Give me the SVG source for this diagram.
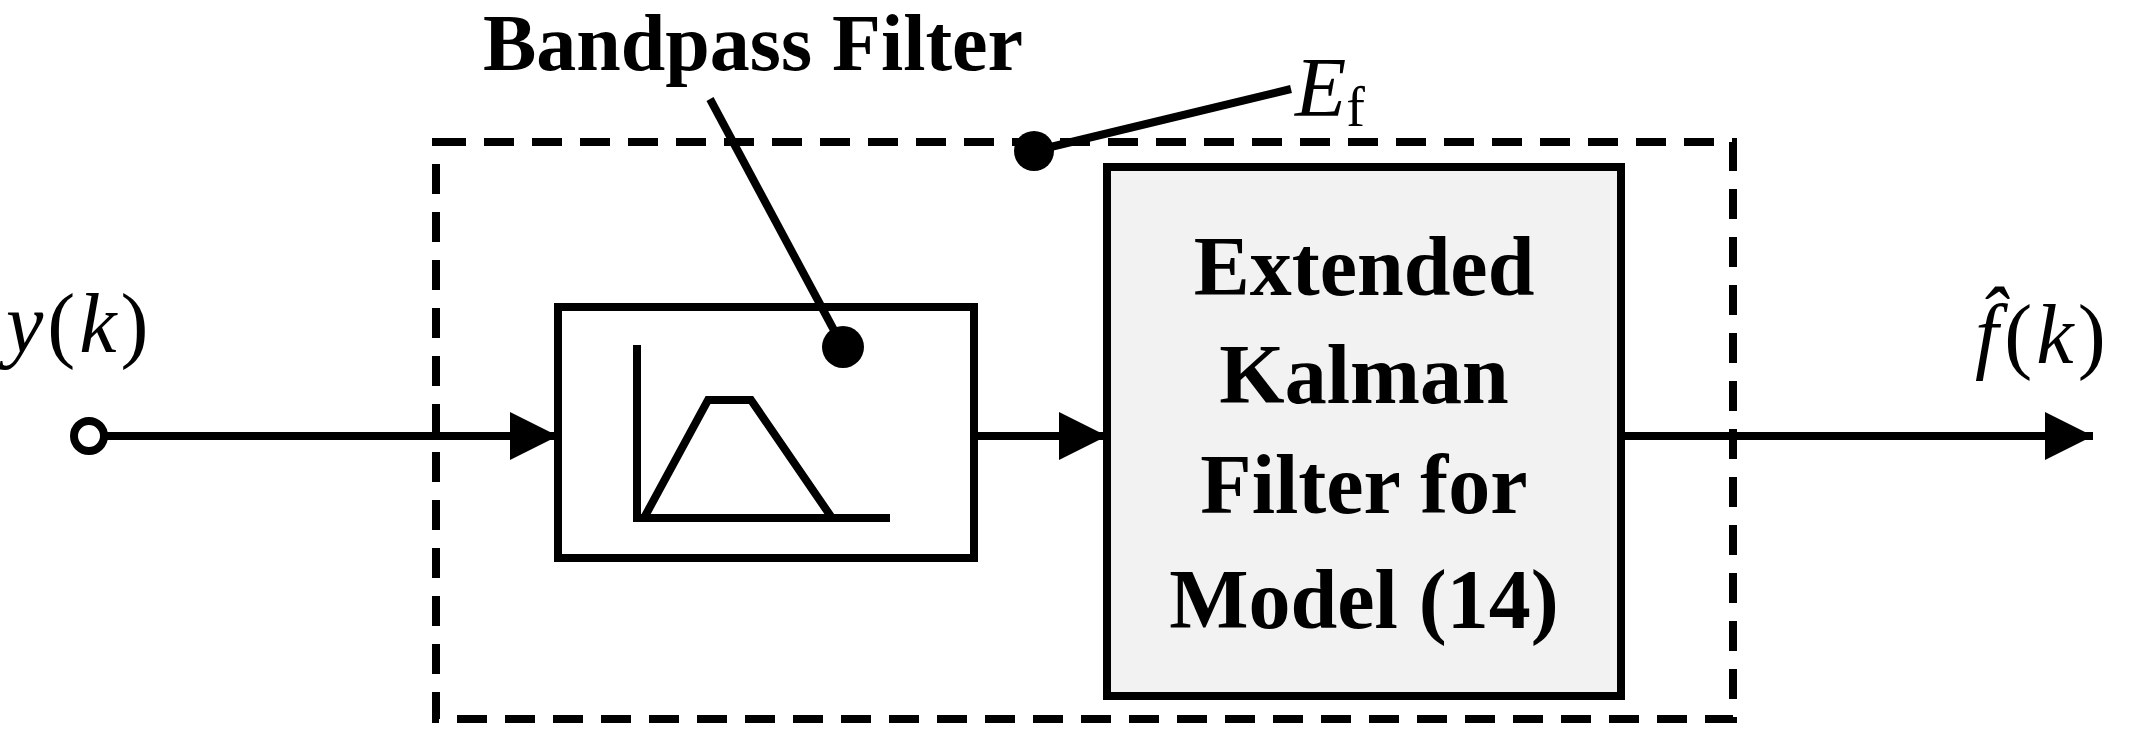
<svg xmlns="http://www.w3.org/2000/svg" width="2148" height="739" viewBox="0 0 2148 739">
<defs>
<style>
.s{stroke:#000;stroke-width:8;fill:none}
.b{font-family:"Liberation Serif",serif;font-weight:bold;fill:#000}
.m{font-family:"Liberation Serif",serif;font-style:italic;fill:#000;font-size:84px}
</style>
<marker id="ar" viewBox="0 0 10 10" refX="10" refY="5" markerWidth="6" markerHeight="6" markerUnits="strokeWidth" orient="auto"><path d="M0,0L10,5L0,10z" fill="#000"/></marker>
</defs>
<rect width="2148" height="739" fill="#fff"/>
<g id="enclosure"><rect x="436" y="142" width="1297" height="577" class="s" stroke-dasharray="30,18"/></g>
<g id="bandpass">
<rect x="558" y="307" width="416" height="251" class="s"/>
<path d="M637,345V518H890M644,518L708,400H751L832,518" class="s"/>
</g>
<g id="ekf">
<rect x="1107" y="167" width="514" height="529" fill="#f2f2f2" stroke="#000" stroke-width="8"/>
<g class="b" font-size="84" text-anchor="middle">
<text x="1364" y="295">Extended</text>
<text x="1364" y="403">Kalman</text>
<text x="1364" y="513">Filter for</text>
<text x="1364" y="628">Model (14)</text>
</g>
</g>
<g id="labels">
<text x="753" y="70" class="b" font-size="80" text-anchor="middle">Bandpass Filter</text>
<text x="1295" y="116" class="m">E<tspan font-style="normal" font-size="56" dy="10">f</tspan></text>
<text x="6" y="352" class="m">y<tspan font-style="normal" dx="4">(</tspan><tspan dx="4">k</tspan><tspan font-style="normal" dx="4">)</tspan></text>
<text x="1975" y="363" class="m">f̂<tspan font-style="normal" dx="6">(</tspan><tspan dx="4">k</tspan><tspan font-style="normal" dx="4">)</tspan></text>
</g>
<g id="connectors">
<line x1="105" y1="436" x2="558" y2="436" class="s" marker-end="url(#ar)"/>
<line x1="974" y1="436" x2="1107" y2="436" class="s" marker-end="url(#ar)"/>
<line x1="1621" y1="436" x2="2093" y2="436" class="s" marker-end="url(#ar)"/>
<circle cx="89" cy="436" r="15" fill="#fff" stroke="#000" stroke-width="8"/>
<line x1="710" y1="99" x2="843" y2="347" class="s"/>
<circle cx="843" cy="347" r="21" fill="#000"/>
<line x1="1034" y1="151" x2="1291" y2="89" class="s"/>
<circle cx="1034" cy="151" r="20" fill="#000"/>
</g>
</svg>
